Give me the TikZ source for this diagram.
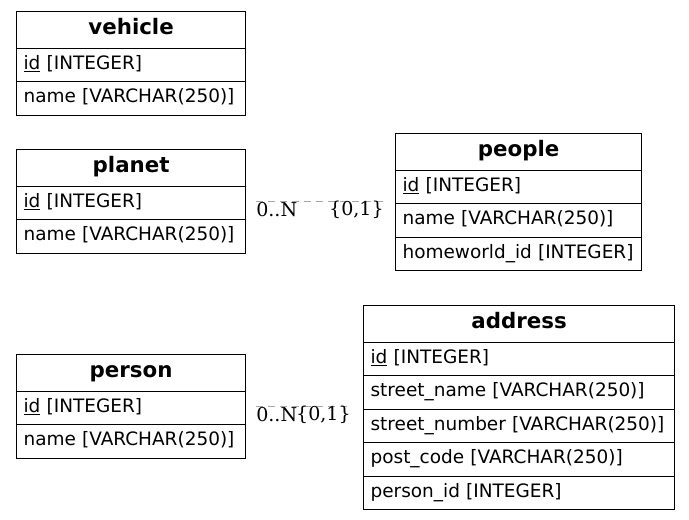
\documentclass[tikz,border=0pt]{standalone}
\usepackage{fontspec}
\setmainfont{DejaVu Sans}
\newfontfamily\lblfont{DejaVu Serif}
\begin{document}
\begin{tikzpicture}[x=0.75pt,y=-0.75pt,
  cell/.style={draw=black, line width=0.9pt, anchor=north west, inner ysep=0pt, inner xsep=7*0.75pt,
    text width=(#1-14)*0.75pt, font=\fontsize{13.85}{17}\selectfont},
  hdr/.style={cell=#1, align=center, minimum height=36.5*0.75pt, text height=15*0.75pt, text depth=6.5*0.75pt,
    font=\fontsize{16}{19}\selectfont\bfseries},
  fld/.style={cell=#1, align=left, minimum height=33.5*0.75pt, text height=14*0.75pt, text depth=5*0.75pt},
  rel/.style={draw=gray!70, line width=0.8pt, dash pattern=on 5pt off 4pt},
  card/.style={inner sep=0pt, font=\lblfont\fontsize{14.3}{17}\selectfont}
]
\useasboundingbox (0,0) rectangle (689,519);
% vehicle
\node[hdr=229] (vehicle) at (16,11) {vehicle};
\node[fld=229] (vid) at (16,47.5) {\mbox{\underline{id} [INTEGER]}};
\node[fld=229] (vname) at (16,81) {\mbox{name [VARCHAR(250)]}};
% planet
\node[hdr=229] (planet) at (16,149) {planet};
\node[fld=229] (pid) at (16,185.5) {\mbox{\underline{id} [INTEGER]}};
\node[fld=229] (pname) at (16,219) {\mbox{name [VARCHAR(250)]}};
% people
\node[hdr=246] (people) at (395,133) {people};
\node[fld=246] (peid) at (395,169.5) {\mbox{\underline{id} [INTEGER]}};
\node[fld=246] (pename) at (395,203) {\mbox{name [VARCHAR(250)]}};
\node[fld=246] (pehw) at (395,236.5) {\mbox{homeworld\_id [INTEGER]}};
% person
\node[hdr=229] (person) at (16,354) {person};
\node[fld=229] (prid) at (16,390.5) {\mbox{\underline{id} [INTEGER]}};
\node[fld=229] (prname) at (16,424) {\mbox{name [VARCHAR(250)]}};
% address
\node[hdr=311] (address) at (363,305) {address};
\node[fld=311] (aid) at (363,341.5) {\mbox{\underline{id} [INTEGER]}};
\node[fld=311] (asn) at (363,375) {\mbox{street\_name [VARCHAR(250)]}};
\node[fld=311] (asnum) at (363,408.5) {\mbox{street\_number [VARCHAR(250)]}};
\node[fld=311] (apc) at (363,442) {\mbox{post\_code [VARCHAR(250)]}};
\node[fld=311] (apid) at (363,475.5) {\mbox{person\_id [INTEGER]}};
% relations
\draw[rel, shorten <=10*0.75pt, shorten >=10*0.75pt] ([yshift=1.5*0.75pt]pid.east) -- ([yshift=1.5*0.75pt]pid.east -| people.west);
\node[card, anchor=west] (l1a) at (256,210) {0..N};
\node[card, anchor=east] (l1b) at (384,210) {\{0,1\}};
\draw[rel, shorten <=10*0.75pt, shorten >=11*0.75pt] ([yshift=1.5*0.75pt]prid.east) -- ([yshift=1.5*0.75pt]prid.east -| address.west);
\node[card, anchor=west] (l2a) at (256,415) {0..N};
\node[card, anchor=east] (l2b) at (351,415) {\{0,1\}};
\end{tikzpicture}
\end{document}
